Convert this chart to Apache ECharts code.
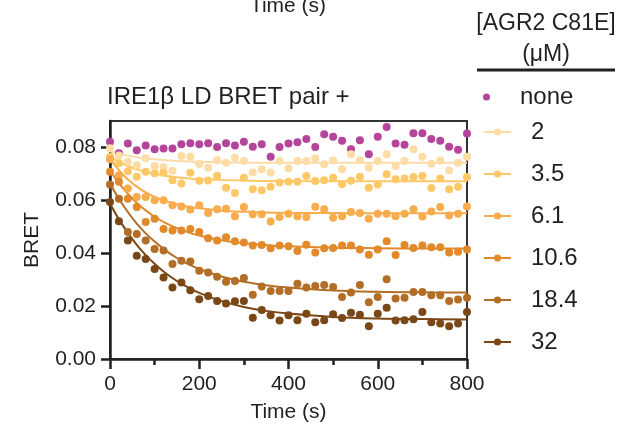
<!DOCTYPE html>
<html lang="en">
<head>
    <meta charset="UTF-8">
    <title>BRET kinetics</title>
    <script src="https://cdn.jsdelivr.net/npm/echarts@6/dist/echarts.min.js"></script>
    <style>
        html, body { margin: 0; padding: 0; background: #fff; }
        #main { width: 628px; height: 431px; }
    </style>
</head>
<body>
<div id="main"></div>
<script type="text/javascript">
    // measurement times (s)
    const times = [0, 20, 40, 60, 80, 100, 120, 140, 160, 180, 200, 220, 240, 260, 280, 300, 320, 340, 360, 380,
        400, 420, 440, 460, 480, 500, 520, 540, 560, 580, 600, 620, 640, 660, 680, 700, 720, 740, 760, 780, 800];

    const concLabels = ['2', '3.5', '6.1', '10.6', '18.4', '32'];
    const colors = ['#fddca6', '#fdc968', '#f8ac4c', '#e2892a', '#b26e26', '#7a4716'];
    const noneColor = '#b5449b';

    // BRET readings
    const bretNone = [0.0822, 0.0778, 0.0815, 0.0789, 0.0807, 0.0793, 0.0796, 0.0796, 0.0812, 0.0816,
        0.0812, 0.0816, 0.0802, 0.0816, 0.0807, 0.0822, 0.0803, 0.0812, 0.0765, 0.0802,
        0.0815, 0.0820, 0.0832, 0.0802, 0.0850, 0.0840, 0.0825, 0.0793, 0.0827, 0.0774,
        0.0840, 0.0877, 0.0815, 0.0810, 0.0854, 0.0854, 0.0832, 0.0825, 0.0803, 0.0791, 0.0853];
    const bret2 = [0.0797, 0.0770, 0.0746, 0.0733, 0.0759, 0.0730, 0.0725, 0.0712, 0.0768, 0.0765,
        0.0737, 0.0723, 0.0752, 0.0742, 0.0761, 0.0749, 0.0705, 0.0718, 0.0705, 0.0749,
        0.0721, 0.0749, 0.0749, 0.0759, 0.0736, 0.0751, 0.0718, 0.0774, 0.0752, 0.0723,
        0.0749, 0.0774, 0.0730, 0.0749, 0.0793, 0.0765, 0.0738, 0.0751, 0.0713, 0.0742, 0.0765];
    const bret3p5 = [0.0765, 0.0740, 0.0710, 0.0689, 0.0708, 0.0702, 0.0704, 0.0676, 0.0664, 0.0704,
        0.0674, 0.0675, 0.0693, 0.0648, 0.0628, 0.0685, 0.0642, 0.0638, 0.0651, 0.0667,
        0.0670, 0.0670, 0.0692, 0.0673, 0.0676, 0.0685, 0.0661, 0.0674, 0.0689, 0.0648,
        0.0660, 0.0699, 0.0680, 0.0683, 0.0688, 0.0692, 0.0647, 0.0683, 0.0642, 0.0651, 0.0688];
    const bret6p1 = [0.0755, 0.0695, 0.0645, 0.0613, 0.0613, 0.0600, 0.0600, 0.0581, 0.0577, 0.0565,
        0.0581, 0.0552, 0.0566, 0.0568, 0.0540, 0.0575, 0.0547, 0.0547, 0.0520, 0.0537,
        0.0549, 0.0540, 0.0537, 0.0576, 0.0566, 0.0534, 0.0540, 0.0556, 0.0552, 0.0530,
        0.0549, 0.0549, 0.0540, 0.0549, 0.0566, 0.0539, 0.0558, 0.0575, 0.0543, 0.0549, 0.0577];
    const bret10p6 = [0.0708, 0.0670, 0.0606, 0.0575, 0.0518, 0.0530, 0.0492, 0.0486, 0.0486, 0.0492,
        0.0480, 0.0457, 0.0448, 0.0460, 0.0445, 0.0441, 0.0429, 0.0431, 0.0419, 0.0429,
        0.0426, 0.0408, 0.0432, 0.0403, 0.0419, 0.0420, 0.0429, 0.0429, 0.0414, 0.0394,
        0.0414, 0.0445, 0.0393, 0.0431, 0.0420, 0.0429, 0.0423, 0.0423, 0.0403, 0.0406, 0.0414];
    const bret18p4 = [0.0660, 0.0606, 0.0480, 0.0473, 0.0448, 0.0416, 0.0410, 0.0359, 0.0372, 0.0369,
        0.0334, 0.0327, 0.0311, 0.0292, 0.0295, 0.0306, 0.0243, 0.0274, 0.0257, 0.0257,
        0.0257, 0.0285, 0.0270, 0.0276, 0.0280, 0.0272, 0.0234, 0.0251, 0.0280, 0.0215,
        0.0234, 0.0302, 0.0229, 0.0232, 0.0253, 0.0253, 0.0241, 0.0241, 0.0219, 0.0225, 0.0232];
    const bret32 = [0.0594, 0.0521, 0.0448, 0.0390, 0.0378, 0.0340, 0.0308, 0.0270, 0.0289, 0.0260,
        0.0226, 0.0238, 0.0219, 0.0210, 0.0218, 0.0219, 0.0156, 0.0185, 0.0165, 0.0146,
        0.0165, 0.0147, 0.0171, 0.0139, 0.0147, 0.0169, 0.0155, 0.0175, 0.0167, 0.0124,
        0.0171, 0.0194, 0.0146, 0.0147, 0.0150, 0.0178, 0.0139, 0.0134, 0.0124, 0.0134, 0.0178];

    // fitted curves, read at these times
    const fitTimes = [0, 20, 40, 60, 80, 100, 125, 150, 175, 200, 250, 300, 350, 400, 500, 600, 700, 800];
    const fit2 = [0.0785, 0.0776, 0.0769, 0.0763, 0.0758, 0.0755, 0.0752, 0.0749, 0.0747, 0.0746,
        0.0744, 0.0743, 0.0742, 0.0742, 0.0742, 0.0742, 0.0742, 0.0742];
    const fit3p5 = [0.0765, 0.0745, 0.0730, 0.0717, 0.0708, 0.0700, 0.0693, 0.0687, 0.0683, 0.0680,
        0.0677, 0.0675, 0.0673, 0.0673, 0.0672, 0.0672, 0.0672, 0.0672];
    const fit6p1 = [0.0758, 0.0714, 0.0679, 0.0652, 0.0630, 0.0613, 0.0597, 0.0585, 0.0576, 0.0570,
        0.0561, 0.0557, 0.0554, 0.0553, 0.0552, 0.0551, 0.0551, 0.0551];
    const fit10p6 = [0.0714, 0.0665, 0.0625, 0.0591, 0.0562, 0.0538, 0.0514, 0.0495, 0.0479, 0.0467,
        0.0449, 0.0438, 0.0431, 0.0426, 0.0421, 0.0419, 0.0418, 0.0418];
    const fit18p4 = [0.0664, 0.0606, 0.0556, 0.0512, 0.0475, 0.0444, 0.0410, 0.0382, 0.0359, 0.0341,
        0.0312, 0.0292, 0.0279, 0.0270, 0.0259, 0.0254, 0.0252, 0.0251];
    const fit32 = [0.0588, 0.0528, 0.0477, 0.0432, 0.0393, 0.0360, 0.0324, 0.0295, 0.0271, 0.0250,
        0.0219, 0.0197, 0.0182, 0.0172, 0.0159, 0.0153, 0.0151, 0.0149];

    const yTicks = [0, 0.02, 0.04, 0.06, 0.08];

    const pointSets = [bret2, bret3p5, bret6p1, bret10p6, bret18p4, bret32];
    const fitSets = [fit2, fit3p5, fit6p1, fit10p6, fit18p4, fit32];

    const FONT = '"Liberation Sans", Arial, Helvetica, sans-serif';
    const INK = '#231f20';

    function pairs(xs, ys) {
        return xs.map(function (x, i) { return [x, ys[i]]; });
    }

    function init() {
        let myChart = echarts.init(document.getElementById('main'), null, {renderer: 'canvas'});

        let series = [{
            name: 'none',
            type: 'scatter',
            symbol: 'circle',
            symbolSize: 8,
            itemStyle: {color: noneColor, opacity: 1},
            data: pairs(times, bretNone),
            z: 3
        }];
        concLabels.forEach(function (label, k) {
            series.push({
                name: label,
                type: 'line',
                symbol: 'circle',
                showSymbol: false,
                smooth: 0.4,
                color: colors[k],
                lineStyle: {width: 2, color: colors[k]},
                data: pairs(fitTimes, fitSets[k]),
                z: 2
            });
        });
        concLabels.forEach(function (label, k) {
            series.push({
                name: label,
                type: 'scatter',
                symbol: 'circle',
                symbolSize: 8,
                itemStyle: {color: colors[k], opacity: 1},
                data: pairs(times, pointSets[k]),
                z: 3
            });
        });

        const legendText = {fontFamily: FONT, fontSize: 24, color: INK, lineHeight: 24, padding: [0, 0, 0, 15]};

        const option = {
            animation: false,
            backgroundColor: '#fff',
            title: {
                text: 'IRE1β LD BRET pair +',
                left: 107,
                top: 85,
                padding: 0,
                textStyle: {fontFamily: FONT, fontSize: 24, fontWeight: 'normal', color: INK}
            },
            grid: {
                left: 110, right: 161, top: 121, bottom: 72,
                show: true, borderColor: '#333', borderWidth: 2,
                containLabel: false
            },
            legend: [{
                data: ['none'],
                orient: 'vertical',
                left: 483, top: 85, padding: 0,
                itemWidth: 27, itemHeight: 7,
                selectedMode: false,
                textStyle: legendText
            }, {
                data: concLabels,
                orient: 'vertical',
                left: 483, top: 120, padding: 0,
                itemWidth: 27, itemHeight: 9, itemGap: 18,
                selectedMode: false,
                textStyle: legendText
            }],
            xAxis: {
                type: 'value',
                min: 0, max: 800, interval: 200,
                name: 'Time (s)',
                nameLocation: 'middle',
                nameGap: 43,
                nameTextStyle: {fontFamily: FONT, fontSize: 21, color: INK},
                axisLine: {lineStyle: {color: INK, width: 2.5}},
                axisTick: {length: 10, lineStyle: {color: INK, width: 2.5}},
                minorTick: {show: true, splitNumber: 2, length: 6, lineStyle: {color: INK, width: 2.5}},
                axisLabel: {fontFamily: FONT, fontSize: 21, color: INK, margin: 15},
                splitLine: {show: false}
            },
            yAxis: {
                type: 'value',
                min: 0, max: 0.09,
                name: 'BRET',
                nameLocation: 'middle',
                nameRotate: 90,
                nameGap: 67,
                nameTextStyle: {fontFamily: FONT, fontSize: 21, color: INK},
                axisLine: {lineStyle: {color: INK, width: 2.5}},
                axisTick: {customValues: yTicks, length: 9, lineStyle: {color: INK, width: 2.5}},
                axisLabel: {
                    customValues: yTicks,
                    fontFamily: FONT, fontSize: 21, color: INK, margin: 14,
                    formatter: function (v) { return v.toFixed(2); }
                },
                splitLine: {show: false}
            },
            graphic: [
                {
                    type: 'text', x: 288, y: 6,
                    style: {text: 'Time (s)', font: '21px ' + FONT, fill: INK, align: 'center', verticalAlign: 'middle'}
                },
                {
                    type: 'text', x: 546, y: 24,
                    style: {text: '[AGR2 C81E]', font: '23px ' + FONT, fill: INK, align: 'center', verticalAlign: 'middle'}
                },
                {
                    type: 'text', x: 546, y: 55,
                    style: {text: '(μM)', font: '23px ' + FONT, fill: INK, align: 'center', verticalAlign: 'middle'}
                },
                {
                    type: 'line',
                    shape: {x1: 477, y1: 70, x2: 615, y2: 70},
                    style: {stroke: INK, lineWidth: 3}
                }
            ],
            series: series
        };
        myChart.setOption(option);
    }

    init();
</script>
</body>
</html>
